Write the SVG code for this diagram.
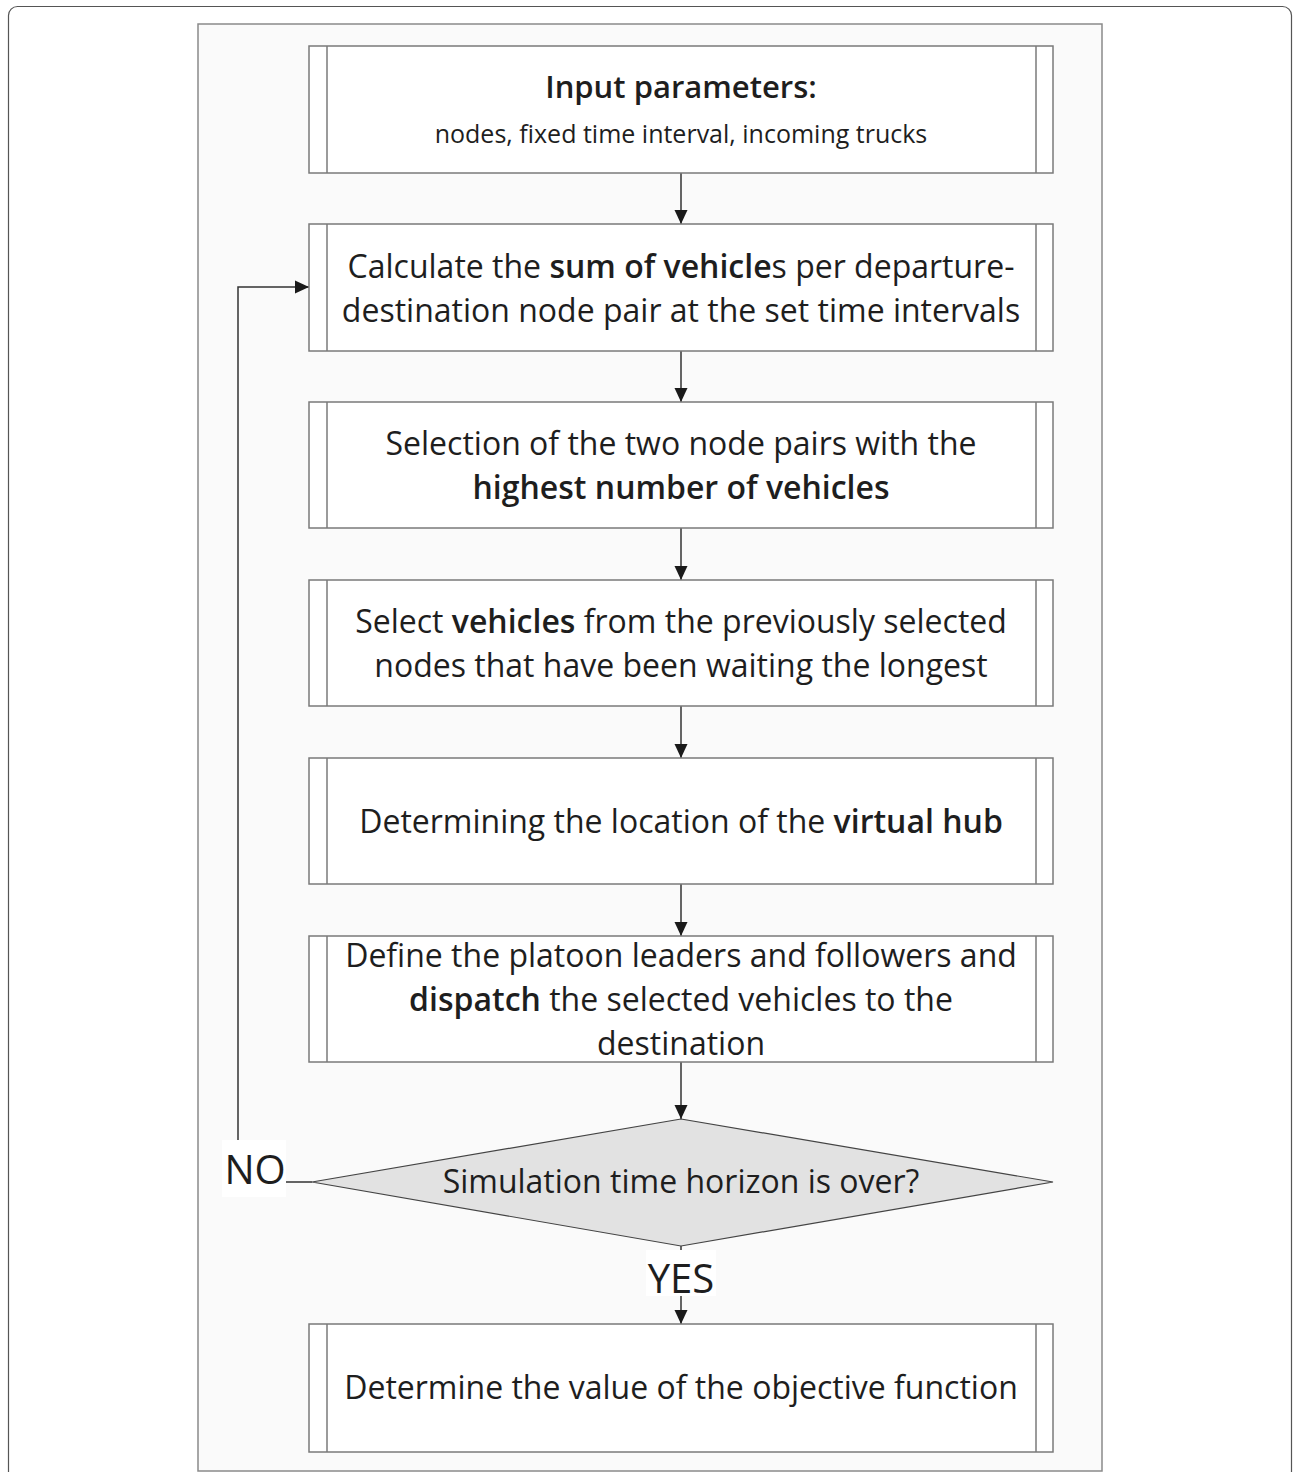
<svg xmlns="http://www.w3.org/2000/svg" width="1294" height="1472" viewBox="0 0 1294 1472">
<defs>
<marker id="ah" markerWidth="14" markerHeight="14" refX="14" refY="7" orient="auto" markerUnits="userSpaceOnUse">
<path d="M0,0.5 L14,7 L0,13.5 Z" fill="#1a1a1a"/>
</marker>
<style>
.t{font-family:"Open Sans","Liberation Sans",sans-serif;fill:#1e1e1e;text-anchor:middle;font-size:32px}
.b{font-weight:600}
.box{fill:#ffffff;stroke:#7a7a7a;stroke-width:1.5}
.bar{stroke:#7a7a7a;stroke-width:1.5}
.con{fill:none;stroke:#333;stroke-width:1.5}
</style>
</defs>
<rect x="8.5" y="6.5" width="1283" height="1490" rx="9" fill="#ffffff" stroke="#555" stroke-width="1.2"/>
<rect x="198" y="24" width="904" height="1447" fill="#fafafa" stroke="#8a8a8a" stroke-width="1.5"/>

<g id="connectors">
<path class="con" d="M681,173 V224" marker-end="url(#ah)"/>
<path class="con" d="M681,351 V402" marker-end="url(#ah)"/>
<path class="con" d="M681,528 V580" marker-end="url(#ah)"/>
<path class="con" d="M681,706 V758" marker-end="url(#ah)"/>
<path class="con" d="M681,884 V936" marker-end="url(#ah)"/>
<path class="con" d="M681,1062 V1119" marker-end="url(#ah)"/>
<path class="con" d="M681,1246 V1324" marker-end="url(#ah)"/>
<path class="con" d="M312,1182 H238 V287 H309" marker-end="url(#ah)"/>
<rect x="222" y="1140" width="64" height="57" fill="#ffffff"/>
<text class="t" x="255" y="1184" style="font-size:40px">NO</text>
<rect x="646" y="1250" width="70" height="46" fill="#ffffff"/>
<text class="t" x="681" y="1293" style="font-size:40px">YES</text>
</g>

<g id="n1">
<rect class="box" x="309" y="46" width="744" height="127"/>
<line class="bar" x1="327" y1="46" x2="327" y2="173"/>
<line class="bar" x1="1036" y1="46" x2="1036" y2="173"/>
<text class="t b" x="681" y="98" style="font-size:31px">Input parameters:</text>
<text class="t" x="681" y="143" style="font-size:25px">nodes, fixed time interval, incoming trucks</text>
</g>

<g id="n2">
<rect class="box" x="309" y="224" width="744" height="127"/>
<line class="bar" x1="327" y1="224" x2="327" y2="351"/>
<line class="bar" x1="1036" y1="224" x2="1036" y2="351"/>
<text class="t" x="681" y="278">Calculate the <tspan class="b">sum of vehicle</tspan>s per departure-</text>
<text class="t" x="681" y="322">destination node pair at the set time intervals</text>
</g>

<g id="n3">
<rect class="box" x="309" y="402" width="744" height="126"/>
<line class="bar" x1="327" y1="402" x2="327" y2="528"/>
<line class="bar" x1="1036" y1="402" x2="1036" y2="528"/>
<text class="t" x="681" y="455">Selection of the two node pairs with the</text>
<text class="t b" x="681" y="499">highest number of vehicles</text>
</g>

<g id="n4">
<rect class="box" x="309" y="580" width="744" height="126"/>
<line class="bar" x1="327" y1="580" x2="327" y2="706"/>
<line class="bar" x1="1036" y1="580" x2="1036" y2="706"/>
<text class="t" x="681" y="633">Select <tspan class="b">vehicles</tspan> from the previously selected</text>
<text class="t" x="681" y="677">nodes that have been waiting the longest</text>
</g>

<g id="n5">
<rect class="box" x="309" y="758" width="744" height="126"/>
<line class="bar" x1="327" y1="758" x2="327" y2="884"/>
<line class="bar" x1="1036" y1="758" x2="1036" y2="884"/>
<text class="t" x="681" y="833">Determining the location of the <tspan class="b">virtual hub</tspan></text>
</g>

<g id="n6">
<rect class="box" x="309" y="936" width="744" height="126"/>
<line class="bar" x1="327" y1="936" x2="327" y2="1062"/>
<line class="bar" x1="1036" y1="936" x2="1036" y2="1062"/>
<text class="t" x="681" y="967">Define the platoon leaders and followers and</text>
<text class="t" x="681" y="1011"><tspan class="b">dispatch</tspan> the selected vehicles to the</text>
<text class="t" x="681" y="1055">destination</text>
</g>

<g id="n7">
<polygon points="681,1119 1053,1182 681,1246 312,1182" fill="#e2e2e2" stroke="#444" stroke-width="1.2"/>
<text class="t" x="681" y="1193">Simulation time horizon is over?</text>
</g>

<g id="n8">
<rect class="box" x="309" y="1324" width="744" height="128"/>
<line class="bar" x1="327" y1="1324" x2="327" y2="1452"/>
<line class="bar" x1="1036" y1="1324" x2="1036" y2="1452"/>
<text class="t" x="681" y="1399">Determine the value of the objective function</text>
</g>
</svg>
